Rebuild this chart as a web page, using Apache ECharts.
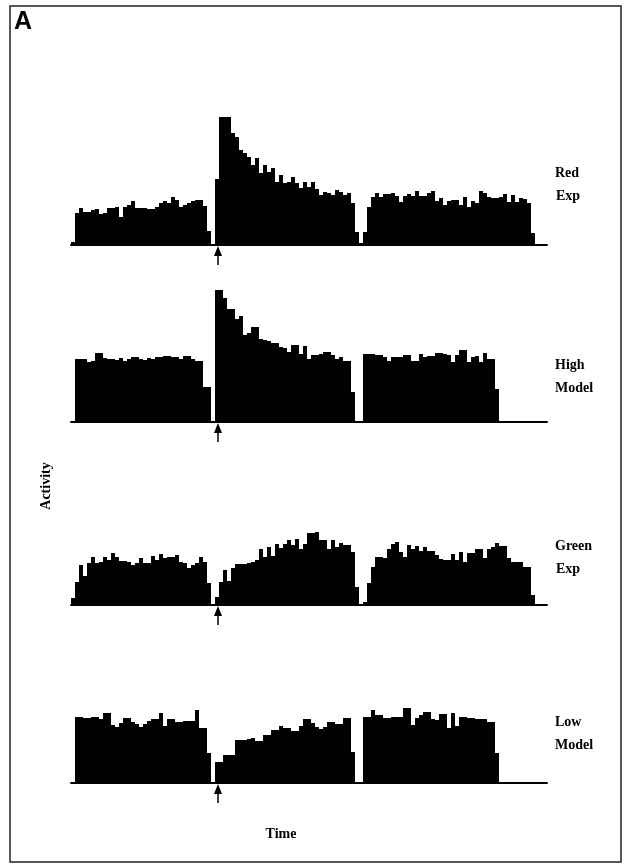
<!DOCTYPE html>
<html>
<head>
<meta charset="utf-8">
<script src="https://cdn.jsdelivr.net/npm/echarts@6/dist/echarts.min.js"></script>
<style>
html,body{margin:0;padding:0;background:#fff;}
#chart{width:628px;height:867px;}
</style>
</head>
<body>
<div id="chart"></div>
<script>
// ---- data (activity per time bin) ----
const binCount = 119;
const stimulusBin = 36;
const panelLabels = ["Red\nExp", "High\nModel", "Green\nExp", "Low\nModel"];
const yLabel = "Activity";
const xLabel = "Time";
const panelTag = "A";

const redExp = [3,32,37,33,33,35,36,31,32,37,37,38,28,38,40,44,37,37,37,36,36,38,42,44,42,48,45,38,40,42,44,45,45,39,14,0,
  66,128,128,128,112,108,95,92,88,80,87,72,80,73,77,63,70,62,63,68,62,57,63,58,63,56,50,53,52,50,55,53,50,52,42,13,
  2,13,38,48,52,48,51,51,52,49,43,49,51,49,54,49,49,52,54,44,47,40,44,45,45,40,48,38,44,42,54,52,48,47,47,48,51,43,50,43,47,46,42,12];

const highModel = [0,63,63,63,60,61,69,69,64,63,63,62,64,61,63,65,65,63,62,64,63,65,65,66,66,65,65,63,66,66,63,61,61,35,35,0,
  132,132,124,113,113,103,106,87,89,95,95,83,82,81,79,79,75,74,70,77,77,68,76,63,67,67,68,70,70,67,63,65,61,61,30,0,0,
  68,68,68,67,67,65,61,65,65,65,67,67,61,61,68,65,66,66,69,69,68,67,60,67,72,72,60,65,66,60,69,63,63,33];

const greenExp = [7,23,40,29,42,48,42,43,48,45,52,48,44,44,43,40,42,47,42,42,49,45,51,47,48,48,50,43,42,37,40,42,48,43,22,0,
  8,23,35,24,37,41,41,41,42,43,45,56,48,58,49,61,57,61,65,60,66,56,61,72,72,73,65,65,56,65,58,62,60,60,53,18,0,
  3,22,38,48,48,47,56,61,63,53,48,60,56,59,54,58,54,54,50,46,45,45,51,45,53,43,52,52,56,56,47,56,58,62,59,59,47,43,43,43,38,38,10];

const lowModel = [0,66,66,65,65,66,66,64,70,70,58,56,60,65,65,61,59,56,59,62,64,64,70,57,64,64,61,61,62,62,62,73,55,55,30,0,
  21,21,28,28,28,43,43,43,44,45,42,42,48,48,53,53,57,55,55,52,52,57,64,64,60,56,54,56,61,61,59,59,65,65,31,0,0,
  66,66,73,68,68,65,65,66,66,66,75,75,58,65,68,71,71,64,63,69,69,55,70,57,66,66,65,65,64,64,64,61,61,30];

const panels = [redExp, highModel, greenExp, lowModel];
const bins = Array.from({length: binCount}, (_, i) => String(i));

// ---- layout ----
const baselines = [245, 422, 605, 783];
const labelTops = [173, 365, 546, 722];
const gridLeft = 71, gridWidth = 476, gridHeight = 140, yMax = 140;

const chart = echarts.init(document.getElementById('chart'), null, {renderer: 'canvas'});

const grids = [], xAxes = [], yAxes = [], series = [];
panels.forEach((vals, k) => {
  grids.push({left: gridLeft, width: gridWidth, top: baselines[k] - gridHeight, height: gridHeight});
  xAxes.push({
    type: 'category', gridIndex: k, data: bins, boundaryGap: true,
    axisLine: {show: true, lineStyle: {color: '#000', width: 2}},
    axisTick: {show: false}, axisLabel: {show: false}, splitLine: {show: false}
  });
  yAxes.push({type: 'value', gridIndex: k, min: 0, max: yMax, show: false, splitLine: {show: false}});
  series.push({
    type: 'bar', xAxisIndex: k, yAxisIndex: k, data: vals,
    barCategoryGap: '0%', barGap: '0%',
    itemStyle: {color: '#000', borderWidth: 0},
    silent: true, animation: false
  });
});

chart.setOption({
  backgroundColor: '#fff',
  animation: false,
  grid: grids, xAxis: xAxes, yAxis: yAxes, series: series
});

// ---- annotations (positions derived from the axes) ----
const serifFont = 'bold 14px "Liberation Serif", "Times New Roman", serif';
const g = [];
g.push({type: 'rect', shape: {x: 10, y: 6, width: 611, height: 856},
  style: {fill: 'none', stroke: '#222', lineWidth: 1.5}});
g.push({type: 'text', left: 14, top: 10,
  style: {text: panelTag, font: 'bold 25px "Liberation Sans", Arial, sans-serif', fill: '#000'}});

panels.forEach((vals, k) => {
  const p = chart.convertToPixel({gridIndex: k}, [stimulusBin, 0]);
  const x = p[0] + 1, y = p[1] + 1;
  g.push({type: 'polygon', shape: {points: [[x, y], [x - 4, y + 10], [x + 4, y + 10]]},
    style: {fill: '#000'}});
  g.push({type: 'line', shape: {x1: x, y1: y + 8, x2: x, y2: y + 19},
    style: {stroke: '#000', lineWidth: 1.5}});
  const lines = panelLabels[k].split('\n');
  lines.forEach((t, j) => {
    g.push({type: 'text', x: 555 + (j === 1 && t === 'Exp' ? 1 : 0), y: labelTops[k] + j * 23,
      style: {text: t, font: serifFont, fill: '#000', verticalAlign: 'middle'}});
  });
});

g.push({type: 'text', x: 46, y: 486, rotation: Math.PI / 2,
  style: {text: yLabel, font: serifFont, fill: '#000', align: 'center', verticalAlign: 'middle'}});
g.push({type: 'text', x: 281, y: 834,
  style: {text: xLabel, font: serifFont, fill: '#000', align: 'center', verticalAlign: 'middle'}});

chart.setOption({graphic: g});
</script>
</body>
</html>
